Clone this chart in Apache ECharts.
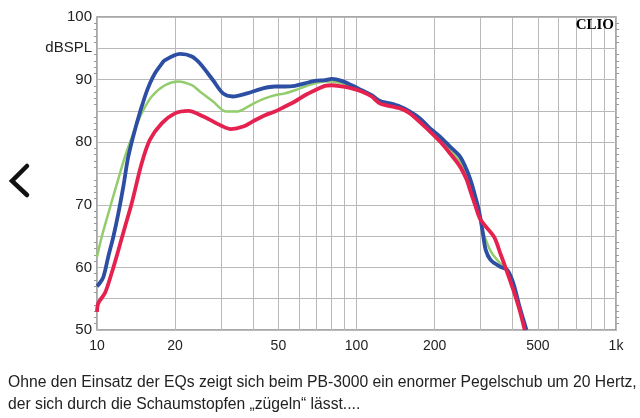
<!DOCTYPE html>
<html><head><meta charset="utf-8">
<script src="https://cdn.jsdelivr.net/npm/echarts@6/dist/echarts.min.js"></script>
<style>html,body{margin:0;padding:0;background:#fff;}#c{width:640px;height:418px;}</style>
</head><body><div id="c"></div>
<script>
// Frequencies (Hz) and levels (dB SPL)
const freqBlue = [10,10.12,10.57,11.05,11.56,12.08,12.63,13.2,14.22,15.3,16.0,16.73,17.6,18.27,20.9,23.2,24.9,28.0,30.6,33.4,37.9,43.6,48.5,53,57.9,63.3,69.2,75.6,80.3,87.6,95.8,104.7,114.4,123.2,134.6,147.1,160.8,175.7,192,209.8,229.3,250.6,265.8,278,282.3,296,305.5,314.6,328.9,358.5,381,402,425,452];
const dbBlue   = [57.0,57.2,58.4,61.7,64.9,68.6,72.9,77.7,83.0,87.3,89.4,91.0,92.3,93.1,94.1,93.7,92.6,89.9,87.8,87.3,87.8,88.6,88.9,88.9,89.0,89.4,89.8,89.9,90.1,89.8,89.1,88.3,87.5,86.6,86.2,85.7,84.9,83.8,82.2,80.9,79.3,77.7,75.6,73.4,72.4,69.2,66.0,62.8,61.2,60.1,59.6,57.5,53.7,50.0];

const freqGreen = [10,10.43,11.05,11.73,12.82,13.8,14.86,16.25,18.27,20.57,23.2,24.9,28.0,31.5,34.5,37.2,40.6,44.4,48.5,53,57.9,63.3,69.2,75.6,80.3,87.6,95.8,104.7,114.4,123.2,147.1,160.8,192,209.8,229.3,250.6,265.8,278,300.7,305.5,328.9,358.5,381,402,425,448];
const dbGreen   = [61.7,64.9,68.6,72.3,77.7,81.4,84.6,87.3,89.1,89.7,89.1,88.1,86.5,84.9,84.9,85.4,86.3,87.0,87.5,87.8,88.3,88.9,89.4,89.7,89.7,89.4,88.9,88.2,87.4,86.4,85.5,84.7,82.0,80.5,78.7,76.9,74.8,72.2,67.6,66.0,62.6,60.6,59.6,57.0,53.5,50.0];

const freqRed = [10,10.12,10.73,11.39,12.08,12.82,13.6,14.86,16,17.76,19.97,22.5,25.7,30.6,32.8,36.6,40.6,44.4,48.5,53,57.9,63.3,69.2,75.6,80.3,87.6,95.8,104.7,114.4,123.2,147.1,160.8,192,209.8,229.3,250.6,265.8,273.8,286.8,300.7,338.7,358.5,375.8,402,425,445];
const dbRed   = [52.9,54.3,55.9,59.1,62.7,66.5,70.2,76.6,80.4,83.0,84.6,85.0,84.1,82.5,82.1,82.5,83.5,84.3,84.9,85.7,86.5,87.5,88.3,89.0,89.1,88.9,88.6,88.1,87.3,86.2,85.4,84.6,81.7,80.1,78.2,76.1,74.0,72.4,69.9,67.6,64.9,62.2,59.9,56.4,53.2,50.0];

const xGridValues  = [10,20,30,40,50,60,70,80,90,100,200,300,400,500,600,700,800,900,1000];
const xLabelValues = [10,20,50,100,200,500,1000];
const yMin = 50, yMax = 100, yStep = 5;

const zip = (f, d) => f.map((v, i) => [v, d[i]]);

const chart = echarts.init(document.getElementById('c'), null, {renderer: 'canvas'});
const lineBase = {type: 'line', showSymbol: false, smooth: 0.3, clip: true, silent: true};

chart.setOption({
  animation: false,
  backgroundColor: '#fff',
  grid: {left: 97, right: 24, top: 17, bottom: 88, show: true, borderColor: '#8c8c8c', borderWidth: 1.5, backgroundColor: 'transparent'},
  xAxis: {
    type: 'log', logBase: 10, min: 10, max: 1000,
    axisLine: {show: false},
    axisTick: {show: false, customValues: xGridValues},
    axisLabel: {customValues: xLabelValues, formatter: v => v >= 1000 ? '1k' : String(v), color: '#222', fontSize: 14, fontFamily: 'Liberation Sans, Arial, sans-serif', margin: 9},
    splitLine: {show: true, lineStyle: {color: '#b9b9b9', width: 1}},
    minorSplitLine: {show: false}
  },
  yAxis: [{
    type: 'value', min: yMin, max: yMax, interval: yStep,
    axisLine: {show: false},
    axisTick: {show: false},
    minorTick: {show: true, splitNumber: 5, length: 3, inside: true, lineStyle: {color: '#9a9a9a'}},
    axisLabel: {formatter: v => v === 95 ? 'dBSPL' : (v % 10 === 0 ? String(v) : ''), color: '#222', fontSize: 15, fontFamily: 'Liberation Sans, Arial, sans-serif', margin: 5},
    splitLine: {show: true, lineStyle: {color: '#b9b9b9', width: 1}}
  }, {
    type: 'value', min: yMin, max: yMax, interval: yStep, position: 'right',
    axisLine: {show: false}, axisTick: {show: false},
    minorTick: {show: true, splitNumber: 5, length: 3, inside: true, lineStyle: {color: '#9a9a9a'}},
    axisLabel: {show: false}, splitLine: {show: false}
  }],
  series: [
    Object.assign({}, lineBase, {name: 'green', data: zip(freqGreen, dbGreen), lineStyle: {color: '#93cc6c', width: 2.5}, z: 2}),
    Object.assign({}, lineBase, {name: 'blue', data: zip(freqBlue, dbBlue), lineStyle: {color: '#2c4ea3', width: 3.8}, z: 3}),
    Object.assign({}, lineBase, {name: 'red', data: zip(freqRed, dbRed), lineStyle: {color: '#e5214f', width: 3.8}, z: 4})
  ],
  graphic: [
    {type: 'text', right: 26, top: 18, z: 10, style: {text: 'CLIO', fontSize: 15, fontWeight: 'bold', fontFamily: 'Liberation Serif', fill: '#000'}},
    {type: 'polyline', shape: {points: [[27,166],[12,181],[27,195]]}, style: {stroke: '#111', lineWidth: 4.5, fill: null, lineCap: 'round', lineJoin: 'miter'}},
    {type: 'text', left: 8, top: 375, style: {text: 'Ohne den Einsatz der EQs zeigt sich beim PB-3000 ein enormer Pegelschub um 20 Hertz,', fontSize: 15.7, fontFamily: 'Liberation Sans', fill: '#222'}},
    {type: 'text', left: 8, top: 397, style: {text: 'der sich durch die Schaumstopfen „zügeln“ lässt....', fontSize: 15.7, fontFamily: 'Liberation Sans', fill: '#222'}}
  ]
});
</script></body></html>
